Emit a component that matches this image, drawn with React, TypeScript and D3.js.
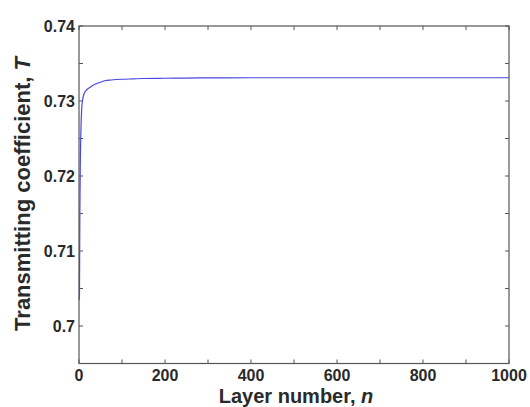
import React from "react";
import * as d3 from "d3";

const layerN = [1, 2, 3, 4, 5, 6, 8, 10, 12, 15, 20, 25, 30, 40, 50, 60, 75, 100, 125, 150, 200, 250, 300, 400, 500, 600, 700, 800, 900, 1000];
const transT = [0.7035, 0.7150, 0.7215, 0.7250, 0.7272, 0.7287, 0.7300, 0.7306, 0.7310, 0.7313, 0.7316, 0.7318, 0.7320, 0.7323, 0.7325, 0.7327, 0.7328, 0.7329, 0.73295, 0.7330, 0.73303, 0.73306, 0.73308, 0.7331, 0.7331, 0.7331, 0.7331, 0.7331, 0.7331, 0.7331];
const xTicks = [0, 100, 200, 300, 400, 500, 600, 700, 800, 900, 1000];
const xLabels = [0, 200, 400, 600, 800, 1000];
const yTicks = [0.695, 0.7, 0.705, 0.71, 0.715, 0.72, 0.725, 0.73, 0.735, 0.74];
const yLabels = [0.7, 0.71, 0.72, 0.73, 0.74];

const W = 530, H = 407;
const L = 79, R = 509, T = 26, B = 363.5;

export default function App() {
  const x = d3.scaleLinear().domain([0, 1000]).range([L, R]);
  const y = d3.scaleLinear().domain([0.695, 0.74]).range([B, T]);
  const line = d3.line<number>().x((_, i) => x(layerN[i])).y((d) => y(d)).curve(d3.curveMonotoneX);
  const tl = 4;
  const axisColor = "#555";
  const font = "'Liberation Sans', Arial, sans-serif";
  return (
    <svg width={W} height={H} style={{ position: "absolute", left: 0, top: 0, background: "#fff" }}>
      <rect x={L} y={T} width={R - L} height={B - T} fill="none" stroke={axisColor} strokeWidth={1.2} />
      {xTicks.map((t) => (
        <g key={"x" + t}>
          <line x1={x(t)} x2={x(t)} y1={B} y2={B - tl} stroke={axisColor} />
          <line x1={x(t)} x2={x(t)} y1={T} y2={T + tl} stroke={axisColor} />
        </g>
      ))}
      {yTicks.map((t) => (
        <g key={"y" + t}>
          <line x1={L} x2={L + tl} y1={y(t)} y2={y(t)} stroke={axisColor} />
          <line x1={R} x2={R - tl} y1={y(t)} y2={y(t)} stroke={axisColor} />
        </g>
      ))}
      {xLabels.map((t) => (
        <text key={"xl" + t} x={x(t)} y={381} textAnchor="middle" fontFamily={font} fontSize={16} fontWeight="bold" fill="#2a2a2a">
          {t}
        </text>
      ))}
      {yLabels.map((t) => (
        <text key={"yl" + t} x={L - 4} y={y(t) + 6} textAnchor="end" fontFamily={font} fontSize={16} fontWeight="bold" fill="#2a2a2a">
          {t === 0.7 ? "0.7" : t.toFixed(2)}
        </text>
      ))}
      <path d={line(transT) || ""} fill="none" stroke="#4848e0" strokeWidth={1.2} />
      <text x={296} y={403} textAnchor="middle" fontFamily={font} fontSize={20} fontWeight="bold" fill="#2a2a2a">
        Layer number, <tspan fontStyle="italic">n</tspan>
      </text>
      <text transform={`translate(30, 194) rotate(-90)`} textAnchor="middle" fontFamily={font} fontSize={22} fontWeight="bold" fill="#2a2a2a">
        Transmitting coefficient, <tspan fontStyle="italic">T</tspan>
      </text>
    </svg>
  );
}
